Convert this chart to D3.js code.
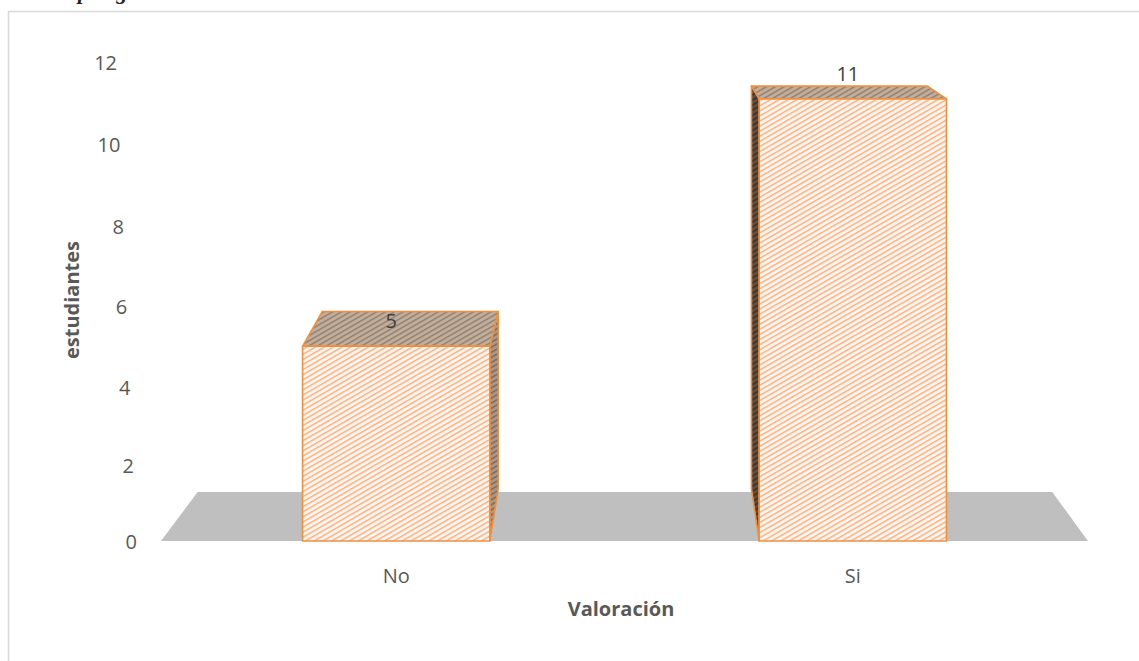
<!DOCTYPE html>
<html><head><meta charset="utf-8">
<script src="https://cdn.jsdelivr.net/npm/d3@7/dist/d3.min.js"></script>
<style>body{margin:0;background:#fff}svg{display:block}</style>
</head><body>
<svg id="c" width="1139" height="661"></svg>
<script>
const categories = ["No", "Si"];
const values = [5, 11];
const tickValues = [0, 2, 4, 6, 8, 10, 12];
const yTitle = "estudiantes";
const xTitle = "Valoración";

const W = 1139, H = 661;
const svg = d3.select("#c");
const FONT = "'Open Sans', 'Noto Sans', sans-serif";
const TXT = "#595959";

// frame
svg.append("rect").attr("x", 8.5).attr("y", 11.5).attr("width", 1300).attr("height", 800)
  .attr("fill", "none").attr("stroke", "#d9d9d9").attr("stroke-width", 1.5);
// clipped caption text from page above
svg.append("text").attr("x", 78).attr("y", -1).attr("font-family", "'Liberation Serif', serif")
  .attr("font-style", "italic").attr("font-weight", "bold").attr("font-size", 22)
  .attr("fill", "#222").attr("xml:space", "preserve").text("p     g");

// scales
const x = d3.scaleBand().domain(categories).range([161, 1088]).paddingInner(0.59).paddingOuter(0.31);
const y = d3.scalePow().exponent(1.04).domain([0, 12]).range([541, 57]);
const yTick = d3.scalePow().exponent(1.03).domain([0, 12]).range([542, 63]);

// simple perspective projection toward vanishing point
const VX = 630, VY = -44, KX = 0.06, KY = 0.089;
function back(px, py, dX = 1, dY = 1) {
  return [px + dX * KX * (VX - px), py + dY * KY * (VY - py)];
}

// patterns
const defs = svg.append("defs");
function hatch(id, bg, fg) {
  const p = defs.append("pattern").attr("id", id).attr("patternUnits", "userSpaceOnUse")
    .attr("width", 8).attr("height", 4.4).attr("patternTransform", "rotate(-30)");
  p.append("rect").attr("width", 8).attr("height", 4.4).attr("fill", bg);
  p.append("rect").attr("y", 0).attr("width", 8).attr("height", 1.5).attr("fill", fg);
}
hatch("hFront", "#fff5ee", "#f6b383");
hatch("hTop", "#c2ae9c", "#94806e");
hatch("hSideR", "#a8978a", "#7d6a5c");
hatch("hSideL", "#5e4e42", "#3a2f27");

// floor
const fx0 = x.range()[0], fx1 = x.range()[1], fy = y(0);
const floorPts = [[fx0, fy], [fx1, fy], back(fx1, fy, 1.3, 0.94), back(fx0, fy, 1.3, 0.94)];
svg.append("polygon").attr("points", floorPts.map(p => p.join(",")).join(" "))
  .attr("fill", "#bfbfbf");

// tick labels (slanted back-wall axis)
const axX = v => 137 - 20 * (542 - yTick(v)) / 479;
svg.append("g").selectAll("text").data(tickValues).join("text")
  .attr("x", d => axX(d)).attr("y", d => yTick(d)).attr("dy", "0.35em")
  .attr("text-anchor", "end").attr("font-family", FONT).attr("font-size", 20)
  .attr("fill", TXT).text(d => d);

// bars
const EDGE = "#f0903f";
const data = categories.map((c, i) => ({ c, v: values[i] }));
const bars = svg.append("g");
data.forEach(d => {
  const x0 = x(d.c), x1 = x(d.c) + x.bandwidth();
  const yt = y(d.v), yb = y(0);
  const g = bars.append("g");
  const poly = (pts, fill) => g.append("polygon")
    .attr("points", pts.map(p => p.join(",")).join(" "))
    .attr("fill", fill).attr("stroke", EDGE).attr("stroke-width", 1.6).attr("stroke-linejoin", "round");
  if (x1 < VX) {
    poly([[x1, yt], back(x1, yt), back(x1, yb), [x1, yb]], "url(#hSideR)");
  } else if (x0 > VX) {
    poly([[x0, yt], back(x0, yt), back(x0, yb), [x0, yb]], "url(#hSideL)");
  }
  poly([[x0, yt], [x1, yt], back(x1, yt), back(x0, yt)], "url(#hTop)");
  poly([[x0, yt], [x1, yt], [x1, yb], [x0, yb]], "url(#hFront)");
  g.append("text").attr("x", (x0 + x1) / 2 - 5).attr("y", yt - 25).attr("dy", "0.35em")
    .attr("text-anchor", "middle").attr("font-family", FONT).attr("font-size", 20)
    .attr("fill", "#404040").text(d.v);
});

// category labels
svg.append("g").selectAll("text").data(categories).join("text")
  .attr("x", d => x(d) + x.bandwidth() / 2).attr("y", 576).attr("dy", "0.35em")
  .attr("text-anchor", "middle").attr("font-family", FONT).attr("font-size", 20)
  .attr("fill", TXT).text(d => d);

// titles
svg.append("text").attr("x", 621).attr("y", 609).attr("dy", "0.35em").attr("text-anchor", "middle")
  .attr("font-family", FONT).attr("font-weight", "bold").attr("font-size", 20).attr("fill", TXT).text(xTitle);
svg.append("text").attr("transform", "translate(72,300) rotate(-90)").attr("dy", "0.35em")
  .attr("text-anchor", "middle").attr("font-family", FONT).attr("font-weight", "bold")
  .attr("font-size", 20).attr("fill", TXT).text(yTitle);
</script>
</body></html>
